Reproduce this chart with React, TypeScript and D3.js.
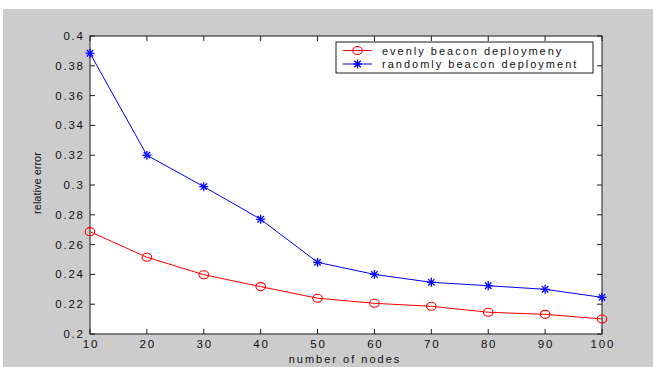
import { useMemo } from "react";
import * as d3 from "d3";

const width = 653;
const height = 367;
const plot = { left: 90, top: 36, right: 602, bottom: 334 };

const nodeCounts = [10, 20, 30, 40, 50, 60, 70, 80, 90, 100];
const evenlyError = [0.2687, 0.2515, 0.2398, 0.2318, 0.224, 0.2206, 0.2186, 0.2146, 0.2132, 0.2101];
const randomlyError = [0.3884, 0.32, 0.2989, 0.277, 0.2481, 0.24, 0.2347, 0.2324, 0.23, 0.2246];
const seriesNames = ["evenly beacon deploymeny", "randomly beacon deployment"];
const yTicks = [0.2, 0.22, 0.24, 0.26, 0.28, 0.3, 0.32, 0.34, 0.36, 0.38, 0.4];
const xTicks = [10, 20, 30, 40, 50, 60, 70, 80, 90, 100];

const font = "Liberation Sans, Arial, sans-serif";
const axisColor = "#1a1a1a";
const tickLen = 5;
const spacing = 1.8;

function Star({ x, y, color }: { x: number; y: number; color: string }) {
  const s = 4.5;
  const d = 3.2;
  return (
    <g stroke={color} strokeWidth={1.3}>
      <line x1={x - s} y1={y} x2={x + s} y2={y} />
      <line x1={x} y1={y - s} x2={x} y2={y + s} />
      <line x1={x - d} y1={y - d} x2={x + d} y2={y + d} />
      <line x1={x - d} y1={y + d} x2={x + d} y2={y - d} />
    </g>
  );
}

function Ring({ x, y, color }: { x: number; y: number; color: string }) {
  return <ellipse cx={x} cy={y} rx={4.8} ry={4} fill="none" stroke={color} strokeWidth={1.1} />;
}

export default function App() {
  const x = useMemo(
    () => d3.scaleLinear().domain([10, 100]).range([plot.left, plot.right]),
    [],
  );
  const y = useMemo(
    () => d3.scaleLinear().domain([0.2, 0.4]).range([plot.bottom, plot.top]),
    [],
  );

  const line = d3
    .line<number>()
    .x((_, i) => x(nodeCounts[i]))
    .y((d) => y(d));

  const fmt = (v: number) => String(+v.toFixed(2));

  return (
    <div style={{ position: "absolute", left: 0, top: 0 }}>
      <svg width={width} height={height} viewBox={`0 0 ${width} ${height}`} style={{ display: "block" }}>
        <rect x={0} y={0} width={width} height={height} fill="#ffffff" />
        <rect x={3} y={9} width={width - 3} height={height - 9} fill="#cccccc" />

        {/* plot area */}
        <rect
          x={plot.left}
          y={plot.top}
          width={plot.right - plot.left}
          height={plot.bottom - plot.top}
          fill="#ffffff"
        />

        {/* ticks on all sides, pointing in */}
        <g stroke={axisColor} strokeWidth={1}>
          {xTicks.map((t) => (
            <g key={`xt-${t}`}>
              <line x1={x(t)} x2={x(t)} y1={plot.bottom} y2={plot.bottom - tickLen} />
              <line x1={x(t)} x2={x(t)} y1={plot.top} y2={plot.top + tickLen} />
            </g>
          ))}
          {yTicks.map((t) => (
            <g key={`yt-${t}`}>
              <line x1={plot.left} x2={plot.left + tickLen} y1={y(t)} y2={y(t)} />
              <line x1={plot.right} x2={plot.right - tickLen} y1={y(t)} y2={y(t)} />
            </g>
          ))}
        </g>

        <rect
          x={plot.left}
          y={plot.top}
          width={plot.right - plot.left}
          height={plot.bottom - plot.top}
          fill="none"
          stroke={axisColor}
          strokeWidth={1}
        />

        {/* tick labels */}
        <g fontFamily={font} fontSize={11.5} fill="#111" letterSpacing={spacing}>
          {yTicks.map((t) => (
            <text key={`yl-${t}`} x={83 + spacing} y={y(t) + 4} textAnchor="end">
              {fmt(t)}
            </text>
          ))}
          {xTicks.map((t) => (
            <text key={`xl-${t}`} x={x(t) + spacing / 2} y={348} textAnchor="middle">
              {t}
            </text>
          ))}
        </g>

        {/* axis titles */}
        <text
          x={344 + 1}
          y={363}
          textAnchor="middle"
          fontFamily={font}
          fontSize={11}
          letterSpacing={2}
          fill="#111"
        >
          number of nodes
        </text>
        <text
          transform={`translate(41, ${(plot.top + plot.bottom) / 2 - 2}) rotate(-90)`}
          textAnchor="middle"
          fontFamily={font}
          fontSize={11}
          fill="#111"
        >
          relative error
        </text>

        {/* series */}
        <path d={line(evenlyError) ?? ""} fill="none" stroke="#ff0000" strokeWidth={1} />
        <path d={line(randomlyError) ?? ""} fill="none" stroke="#0000ff" strokeWidth={1} />
        {evenlyError.map((v, i) => (
          <Ring key={`r-${i}`} x={x(nodeCounts[i])} y={y(v)} color="#ff0000" />
        ))}
        {randomlyError.map((v, i) => (
          <Star key={`s-${i}`} x={x(nodeCounts[i])} y={y(v)} color="#0000ff" />
        ))}

        {/* legend */}
        <rect x={336} y={42} width={257} height={31} fill="#ffffff" stroke={axisColor} strokeWidth={1} />
        <line x1={343} x2={372} y1={50.5} y2={50.5} stroke="#ff0000" />
        <Ring x={357.5} y={50.5} color="#ff0000" />
        <line x1={343} x2={372} y1={64} y2={64} stroke="#0000ff" />
        <Star x={357.5} y={64} color="#0000ff" />
        <g fontFamily={font} fontSize={11} fill="#111" letterSpacing={2}>
          <text x={382} y={54.5}>{seriesNames[0]}</text>
          <text x={382} y={68}>{seriesNames[1]}</text>
        </g>
      </svg>
    </div>
  );
}
